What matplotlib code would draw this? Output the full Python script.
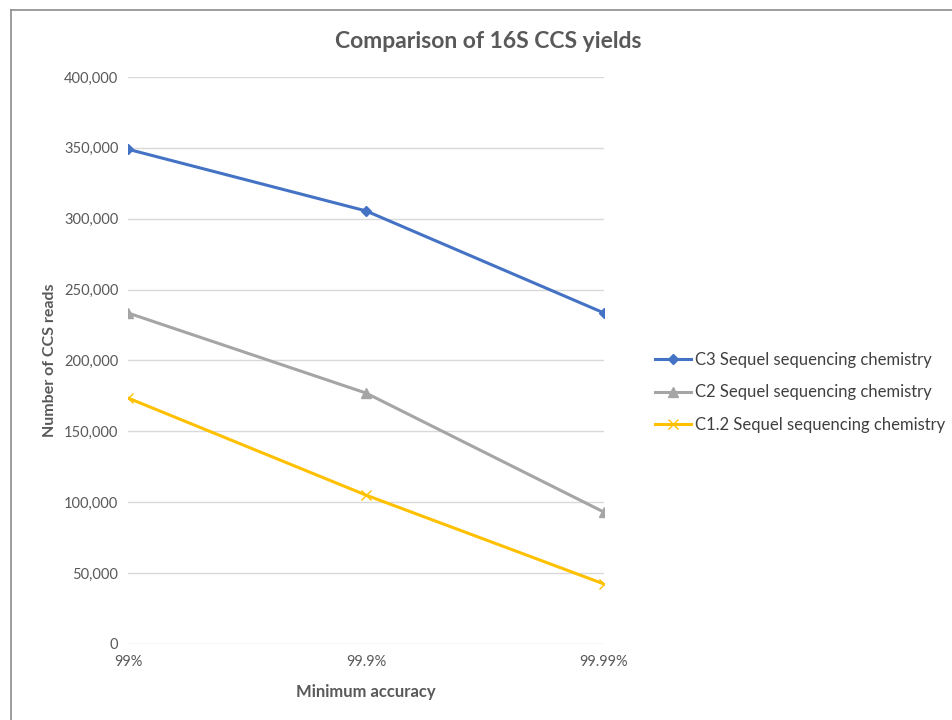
import matplotlib
matplotlib.use("Agg")
import matplotlib.pyplot as plt
from matplotlib.lines import Line2D
from matplotlib.ticker import FuncFormatter

# data
accuracy = ["99%", "99.9%", "99.99%"]
c3_reads = [349000, 305500, 233500]
c2_reads = [233500, 177000, 93000]
c12_reads = [173500, 105000, 42300]
series_names = ["C3 Sequel sequencing chemistry",
                "C2 Sequel sequencing chemistry",
                "C1.2 Sequel sequencing chemistry"]

plt.rcParams['font.family'] = ['Lato', 'DejaVu Sans']
text_grey = '#595959'

fig = plt.figure(figsize=(9.52, 7.2), dpi=100)
ax = fig.add_axes([0.1345, 0.1056, 0.5, 0.7875])

x = list(range(len(accuracy)))
ax.plot(x, c3_reads, color='#4472C4', lw=2.2, marker='D', ms=5, label=series_names[0])
ax.plot(x, c2_reads, color='#A5A5A5', lw=2.2, marker='^', ms=7, label=series_names[1])
ax.plot(x, c12_reads, color='#FFC000', lw=2.2, marker='x', ms=7, mew=1.0, label=series_names[2])

ax.set_xlim(0, 2)
ax.set_ylim(0, 400000)
ax.set_yticks(range(0, 400001, 50000))
ax.yaxis.set_major_formatter(FuncFormatter(lambda v, p: f"{int(v):,}"))
ax.set_xticks(x)
ax.set_xticklabels(accuracy)
ax.grid(axis='y', color='#D9D9D9', lw=1)
ax.set_axisbelow(True)
for s in ax.spines.values():
    s.set_visible(False)
ax.tick_params(length=0, colors=text_grey, labelsize=10.5)
ax.tick_params(axis='y', pad=7)
ax.tick_params(axis='x', pad=8)

fig.text(488 / 952, 1 - 42 / 720, "Comparison of 16S CCS yields", fontsize=16.5,
         fontweight='bold', color=text_grey, ha='center', va='center')
ax.set_xlabel("Minimum accuracy", fontsize=12, fontweight='bold', color=text_grey, labelpad=11)
ax.set_ylabel("Number of CCS reads", fontsize=11.5, fontweight='bold', color=text_grey, labelpad=5)

fig.legend(loc='center left', bbox_to_anchor=(0.672, 0.455), frameon=False,
           fontsize=12, handlelength=2.2, handletextpad=0.2, labelspacing=1.0,
           labelcolor='#404040')

# outer chart frame (only top and left edges visible in the crop)
fig.add_artist(Line2D([11 / 952, 1], [1 - 10 / 720, 1 - 10 / 720], color='#8C8C8C', lw=1.2))
fig.add_artist(Line2D([11 / 952, 11 / 952], [0, 1 - 10 / 720], color='#8C8C8C', lw=1.2))

fig.savefig("out.png", dpi=100)
